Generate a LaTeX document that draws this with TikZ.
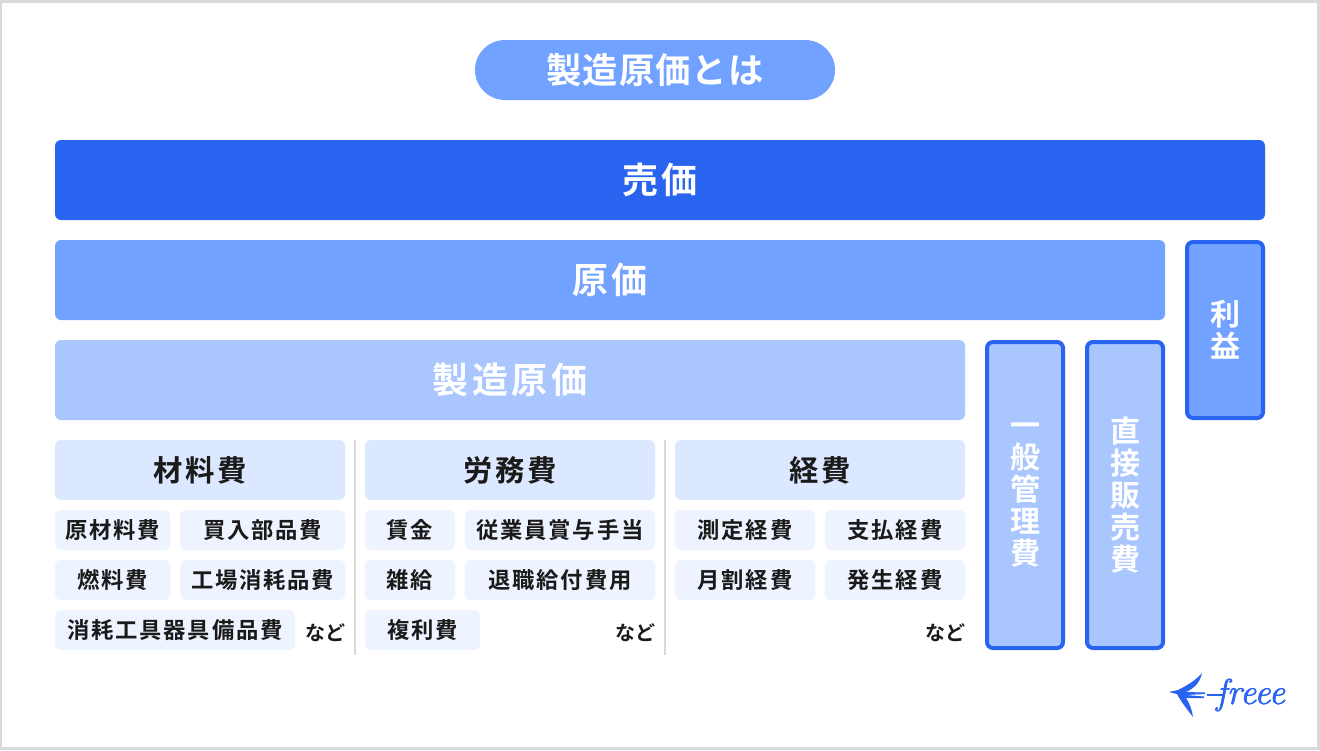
\documentclass[tikz,border=0pt]{standalone}
\usepackage{fontspec}
\setmainfont{Noto Sans CJK JP}[BoldFont={Noto Sans CJK JP Bold}]
\newfontfamily\logofont{Latin Modern Roman}[FakeBold=1.6]
\usetikzlibrary{positioning}
\definecolor{fblue}{HTML}{2864F0}
\definecolor{fmid}{HTML}{72A2FF}
\definecolor{flight}{HTML}{A9C6FF}
\definecolor{fhead}{HTML}{DCE8FF}
\definecolor{fitem}{HTML}{EDF3FF}
\definecolor{fink}{HTML}{1A1A1A}
\definecolor{fgrey}{HTML}{D9D9D9}
\newcommand{\fpx}[2]{\fontsize{#1}{#2}\selectfont\bfseries}
\tikzset{
  px/.style={x=0.75pt,y=-0.75pt},
  base/.style={inner sep=0pt,outer sep=0pt,align=center,rounded corners=4.5pt,anchor=north west},
  sized/.style 2 args={minimum width=#1*0.75pt,minimum height=#2*0.75pt},
  titlebox/.style={base,fill=fmid,text=white,rounded corners=22.4pt,font=\fpx{26.5pt}{30pt}\addfontfeature{LetterSpace=3}},
  sellbox/.style={base,fill=fblue,text=white,font=\fpx{27pt}{32pt}\addfontfeature{LetterSpace=10}},
  costbox/.style={base,fill=fmid,text=white,font=\fpx{27pt}{32pt}\addfontfeature{LetterSpace=10}},
  mfgbox/.style={base,fill=flight,text=white,font=\fpx{27pt}{32pt}\addfontfeature{LetterSpace=10}},
  sidebox/.style={base,draw=fblue,line width=3pt,text=white,font=\fpx{22.5pt}{24pt}},
  headbox/.style={base,fill=fhead,text=fink,font=\fpx{22pt}{26pt}\addfontfeature{LetterSpace=10}},
  itembox/.style={base,fill=fitem,text=fink,font=\fpx{16.75pt}{20pt}\addfontfeature{LetterSpace=8}},
  etc/.style={inner sep=0pt,text=fink,font=\fpx{15pt}{18pt}},
  sep/.style={draw=fgrey,line width=1.5pt},
  logo/.style={fill=fblue,draw=none},
}
\begin{document}
\begin{tikzpicture}[px]
\useasboundingbox (0,0) rectangle (1320,750);
\fill[fgrey] (0,0) rectangle (1320,750);
\fill[white] (2,3) rectangle (1317,747);

\node[titlebox,sized={360}{60}] (title) at (475,40) {製造原価とは};
\node[sellbox,sized={1210}{80}] (sell) at (55,140) {売価};
\node[costbox,sized={1110}{80}] (cost) at (55,240) {原価};
\node[mfgbox,sized={910}{80}] (mfg) at (55,340) {製造原価};
\node[sidebox,fill=fmid,sized={76}{176}] (profit) at (1187,242) {利\\益};
\node[sidebox,fill=flight,sized={76}{306}] (admin) at (987,342) {一\\般\\管\\理\\費};
\node[sidebox,fill=flight,sized={76}{306}] (sales) at (1087,342) {直\\接\\販\\売\\費};

\node[headbox,sized={290}{60}] (h1) at (55,440) {材料費};
\node[headbox,sized={290}{60}] (h2) at (365,440) {労務費};
\node[headbox,sized={290}{60}] (h3) at (675,440) {経費};

\node[itembox,sized={115}{40}] (a1) at (55,510) {原材料費};
\node[itembox,sized={165}{40}] (a2) at (180,510) {買入部品費};
\node[itembox,sized={115}{40}] (a3) at (55,560) {燃料費};
\node[itembox,sized={165}{40}] (a4) at (180,560) {工場消耗品費};
\node[itembox,sized={240}{40}] (a5) at (55,610) {消耗工具器具備品費};
\node[etc] (a6) at (325,633) {など};

\node[itembox,sized={90}{40}] (b1) at (365,510) {賃金};
\node[itembox,sized={190}{40}] (b2) at (465,510) {従業員賞与手当};
\node[itembox,sized={90}{40}] (b3) at (365,560) {雑給};
\node[itembox,sized={190}{40}] (b4) at (465,560) {退職給付費用};
\node[itembox,sized={115}{40}] (b5) at (365,610) {複利費};
\node[etc] (b6) at (635,633) {など};

\node[itembox,sized={140}{40}] (c1) at (675,510) {測定経費};
\node[itembox,sized={140}{40}] (c2) at (825,510) {支払経費};
\node[itembox,sized={140}{40}] (c3) at (675,560) {月割経費};
\node[itembox,sized={140}{40}] (c4) at (825,560) {発生経費};
\node[etc] (c6) at (945,633) {など};

\coordinate (s1t) at (355,440); \coordinate (s1b) at (355,655);
\coordinate (s2t) at (665,440); \coordinate (s2b) at (665,655);
\draw[sep] (s1t) -- (s1b);
\draw[sep] (s2t) -- (s2b);

% logo
\fill[logo] (1169,692) -- (1178,690) .. controls (1188,685) and (1196,680) .. (1202,673)
  .. controls (1200,682) and (1195,688) .. (1186,692) -- (1205,692.5) -- (1205,694) -- (1186,695)
  -- (1204,696.5) -- (1204,698) -- (1186,698) .. controls (1190,704) and (1192,710) .. (1193,717)
  .. controls (1186,708) and (1180,700) .. (1177,694) -- cycle;
\fill[logo] (1207,694) rectangle (1224,696);
\node[inner sep=0pt,text=fblue,anchor=center] (brand) at (1250.5,695)
  {\logofont\itshape\fontsize{27pt}{27pt}\selectfont freee};
\end{tikzpicture}
\end{document}
